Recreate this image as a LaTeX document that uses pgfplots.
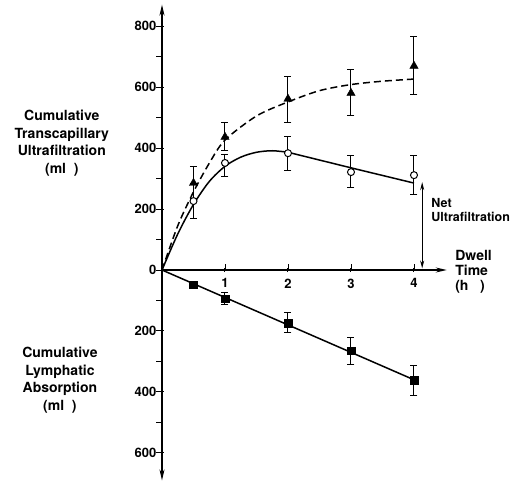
\documentclass[border=0pt]{standalone}
\usepackage{fontspec}
\setmainfont{TeX Gyre Heros}
\usepackage{pgfplots}
\pgfplotsset{compat=1.18}
\usetikzlibrary{arrows.meta}
\begin{document}
\begin{tikzpicture}
\begin{axis}[
 scale only axis, width=284.76pt, height=475.8pt,
 xmin=0, xmax=4.52, ymin=-690, ymax=870,
 axis x line=middle, axis y line=left,
 axis line style={line width=1.2pt},
 x axis line style={-{Stealth[length=11pt,width=5pt]}},
 y axis line style={{Stealth[length=11pt,width=5pt]}-{Stealth[length=11pt,width=5pt]}},
 clip=false,
 xtick={1,2,3,4}, xticklabels={1,2,3,4},
 ytick={-600,-400,-200,0,200,400,600,800},
 yticklabels={600,400,200,0,200,400,600,800},
 tick style={line width=1pt, black},
 ticklabel style={font=\bfseries\fontsize{13}{13}\selectfont},
 xticklabel style={yshift=-3pt},
]
% dashed curve (total transcapillary)
\addplot[black, line width=1.5pt, dash pattern=on 7pt off 4pt, smooth] coordinates {
 (0,0) (0.25,145) (0.5,256) (0.75,350) (1,426) (1.5,505) (2,551) (2.5,588) (3,608) (3.5,619) (4,626)};
% solid curve (net)
\addplot[black, line width=1.5pt, smooth] coordinates {
 (0,0) (0.25,118) (0.5,215) (0.75,290) (1,340) (1.25,370) (1.5,386) (1.75,391) (2,386)};
\addplot[black, line width=1.5pt] coordinates {(2,386) (3,335) (4,285)};
% lymphatic line
\addplot[black, line width=1.5pt] coordinates {(0,0) (4,-360)};
% triangles
\addplot[only marks, black, mark=triangle*, mark size=4.8pt,
 error bars/.cd, y dir=both, y explicit,
 error bar style={line width=1pt, black},
 error mark options={rotate=90, mark size=3.5pt, line width=1pt, black}]
 coordinates {
 (0.5,285) += (0,53) -= (0,50)
 (1,436) += (0,46) -= (0,43)
 (2,561) += (0,72) -= (0,76)
 (3,580) += (0,79) -= (0,75)
 (4,669) += (0,95) -= (0,92)};
% circles
\addplot[only marks, black, mark=*, mark size=3.5pt, mark options={fill=white, draw=black, line width=1pt},
 error bars/.cd, y dir=both, y explicit,
 error bar style={line width=1pt, black},
 error mark options={rotate=90, mark size=3.5pt, line width=1pt, black}]
 coordinates {
 (0.5,226) += (0,58) -= (0,56)
 (1,351) += (0,29) -= (0,43)
 (2,383) += (0,56) -= (0,58)
 (3,321) += (0,53) -= (0,49)
 (4,311) += (0,63) -= (0,65)};
% squares
\addplot[only marks, black, mark=square*, mark size=3.8pt,
 error bars/.cd, y dir=both, y explicit,
 error bar style={line width=1pt, black},
 error mark options={rotate=90, mark size=3.5pt, line width=1pt, black}]
 coordinates {
 (0.5,-48) += (0,10) -= (0,10)
 (1,-94) += (0,20) -= (0,20)
 (2,-174) += (0,34) -= (0,32)
 (3,-265) += (0,45) -= (0,45)
 (4,-361) += (0,48) -= (0,52)};
% net ultrafiltration arrow
\draw[line width=1pt, {Stealth[length=8pt,width=4pt]}-{Stealth[length=8pt,width=4pt]}] (axis cs:4.13,5) -- (axis cs:4.13,288);
\node[align=left, anchor=west, font=\bfseries\fontsize{12.5}{14}\selectfont] at (axis cs:4.22,197) {Net\\Ultrafiltration};
\node[align=left, anchor=west, font=\bfseries\fontsize{14}{15}\selectfont] at (axis cs:4.6,-6) {Dwell\\Time\\(h\ \ \ )};
\node[align=center, font=\bfseries\fontsize{14}{17.7}\selectfont] at (axis cs:-1.59,416) {Cumulative\\Transcapillary\\Ultrafiltration\\(ml\ \ )};
\node[align=center, font=\bfseries\fontsize{14}{17.7}\selectfont] at (axis cs:-1.62,-361) {Cumulative\\Lymphatic\\Absorption\\(ml\ \ )};
\coordinate (o) at (axis cs:0,0);
\end{axis}
% axis tick marks
\foreach \v in {-600,-500,...,800} \draw[line width=1pt] (o) ++(0,\v*0.305pt) -- ++(-6pt,0);
\foreach \t in {1,2,3,4} \draw[line width=1pt] (o) ++(\t*63pt,0) -- ++(0,6pt);
\pgfresetboundingbox
\path (o) ++(-162pt,270pt) rectangle ++(514pt,-488pt);
\end{tikzpicture}
\end{document}
